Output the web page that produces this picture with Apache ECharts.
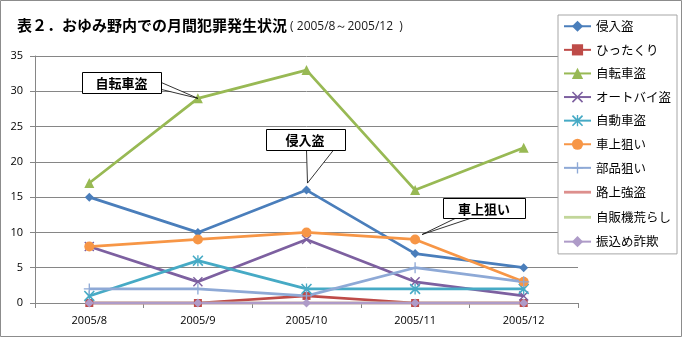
<!DOCTYPE html>
<html><head><meta charset="utf-8">
<script src="https://cdn.jsdelivr.net/npm/echarts@6/dist/echarts.min.js"></script>
<style>html,body{margin:0;padding:0;background:#fff}#c{width:682px;height:337px}</style>
</head><body><div id="c"></div>
<script>
const categories = ['2005/8', '2005/9', '2005/10', '2005/11', '2005/12'];
const seriesNames = ['侵入盗', 'ひったくり', '自転車盗', 'オートバイ盗', '自動車盗', '車上狙い', '部品狙い', '路上強盗', '自販機荒らし', '振込め詐欺'];
const shinnyu = [15, 10, 16, 7, 5];
const hittakuri = [0, 0, 1, 0, 0];
const jitensha = [17, 29, 33, 16, 22];
const autobai = [8, 3, 9, 3, 1];
const jidosha = [1, 6, 2, 2, 2];
const shajo = [8, 9, 10, 9, 3];
const buhin = [2, 2, 1, 5, 3];
const rojo = [0, 0, 0, 0, 0];
const jihanki = [0, 0, 0, 0, 0];
const furikome = [0, 0, 0, 0, 0];
const yMin = 0, yMax = 35, yStep = 5;
const titleMain = '表２．おゆみ野内での月間犯罪発生状況';
const titleSub = '( 2005/8～2005/12  )';
// callouts: [seriesIndex, categoryIndex, text]
const callouts = [[2, 1, '自転車盗'], [0, 2, '侵入盗'], [5, 3, '車上狙い']];

const values = [shinnyu, hittakuri, jitensha, autobai, jidosha, shajo, buhin, rojo, jihanki, furikome];
const colors = ['#4A7EBB', '#BE4B48', '#98B954', '#7D60A0', '#46AAC5', '#F79646', '#8EA9D6', '#DD8F8D', '#C2D69A', '#AE9BC8'];
const X = 'path://M1,0 L5,4 L9,0 L10,1 L6,5 L10,9 L9,10 L5,6 L1,10 L0,9 L4,5 L0,1 Z';
const STAR = 'path://M1,0 L4.4,3.4 L4.4,0 L5.6,0 L5.6,3.4 L9,0 L10,1 L6.2,5 L10,9 L9,10 L5.6,6.6 L5.6,10 L4.4,10 L4.4,6.6 L1,10 L0,9 L3.8,5 L0,1 Z';
const PLUS = 'path://M4.4,0 L5.6,0 L5.6,4.4 L10,4.4 L10,5.6 L5.6,5.6 L5.6,10 L4.4,10 L4.4,5.6 L0,5.6 L0,4.4 L4.4,4.4 Z';
const LINEICON = 'path://M0,0 M27,14 M0,5.6 L27,5.6 L27,8.4 L0,8.4 Z';
const symbols = ['diamond', 'rect', 'triangle', X, STAR, 'circle', PLUS, 'none', 'none', 'diamond'];
const sizes = [9, 8, 10, 10, 11, 10, 11, 0, 0, 9];

const font = '"Noto Sans CJK JP", "Noto Sans", sans-serif';
const latin = '"Open Sans", "Noto Sans", sans-serif';
const chart = echarts.init(document.getElementById('c'));
chart.setOption({
  animation: false,
  backgroundColor: '#fff',
  textStyle: {fontFamily: font},
  title: {
    left: 12, top: 13,
    text: '{a|' + titleMain + '}{b| ' + titleSub + '}',
    textStyle: {
      rich: {
        a: {fontSize: 15, fontWeight: 'bold', color: '#000', fontFamily: font},
        b: {fontSize: 12, fontWeight: 'normal', color: '#1a1a1a', fontFamily: latin, padding: [2, 0, 0, 0]}
      }
    }
  },
  legend: {
    orient: 'vertical', left: 558, top: 15,
    padding: [5, 6, 6, 5],
    itemWidth: 27, itemHeight: 14, itemGap: 11.1,
    borderColor: '#A6A6A6', borderWidth: 1, backgroundColor: '#fff',
    textStyle: {fontSize: 12.5, color: '#000', fontFamily: font},
    data: seriesNames.map((n, i) => symbols[i] === 'none' ? {name: n, icon: LINEICON} : {name: n})
  },
  grid: {left: 35, right: 104, top: 56, bottom: 34, containLabel: false},
  xAxis: {
    type: 'category', data: categories, boundaryGap: true,
    axisLine: {lineStyle: {color: '#868686', width: 1}},
    axisTick: {show: true, length: 5, lineStyle: {color: '#868686'}},
    axisLabel: {fontSize: 11, color: '#000', margin: 12, fontFamily: latin}
  },
  yAxis: {
    type: 'value', min: yMin, max: yMax, interval: yStep,
    axisLine: {show: true, lineStyle: {color: '#868686', width: 1}},
    axisTick: {show: true, length: 5, lineStyle: {color: '#868686'}},
    splitLine: {lineStyle: {color: '#868686', width: 1}},
    axisLabel: {fontSize: 11, color: '#000', margin: 12, fontFamily: latin}
  },
  series: seriesNames.map((n, i) => ({
    name: n, type: 'line', data: values[i],
    color: colors[i],
    symbol: symbols[i], symbolSize: sizes[i], showSymbol: symbols[i] !== 'none',
    lineStyle: {width: 2.75, color: colors[i]},
    itemStyle: {color: colors[i]}
  }))
});

function buildGraphics() {
  const g = [{type: 'rect', shape: {x: 0.5, y: 0.5, width: 681, height: 336}, style: {fill: 'none', stroke: '#8C8C8C', lineWidth: 1}, z: 100}];
  const layouts = [
    {bx: -116, by: -26, w: 79, h: 21, tip: [0, 0], base: [[-37, -16], [-37, -9]]},
    {bx: -41, by: -61, w: 79, h: 21, tip: [1, -7], base: [[0, -40], [27, -40]]},
    {bx: 28, by: -41, w: 82, h: 20, tip: [7, -5], base: [[40, -21], [55, -21]]}
  ];
  callouts.forEach((c, k) => {
    const p = chart.convertToPixel({seriesIndex: c[0]}, [c[1], values[c[0]][c[1]]]);
    const L = layouts[k];
    g.push({type: 'polygon', z: 50, shape: {points: [[p[0] + L.base[0][0], p[1] + L.base[0][1]], [p[0] + L.tip[0], p[1] + L.tip[1]], [p[0] + L.base[1][0], p[1] + L.base[1][1]]]}, style: {fill: '#fff', stroke: '#000', lineWidth: 0.8}});
    g.push({type: 'rect', z: 51, shape: {x: Math.round(p[0] + L.bx) + 0.5, y: Math.round(p[1] + L.by) + 0.5, width: L.w, height: L.h}, style: {fill: '#fff', stroke: '#000', lineWidth: 1}});
    g.push({type: 'text', z: 52, x: p[0] + L.bx + L.w / 2, y: p[1] + L.by + L.h / 2 + 0.5, style: {text: c[2], fontSize: 13, fontWeight: 'bold', fill: '#000', align: 'center', verticalAlign: 'middle', fontFamily: font}});
  });
  chart.setOption({graphic: g});
}
buildGraphics();
</script></body></html>
